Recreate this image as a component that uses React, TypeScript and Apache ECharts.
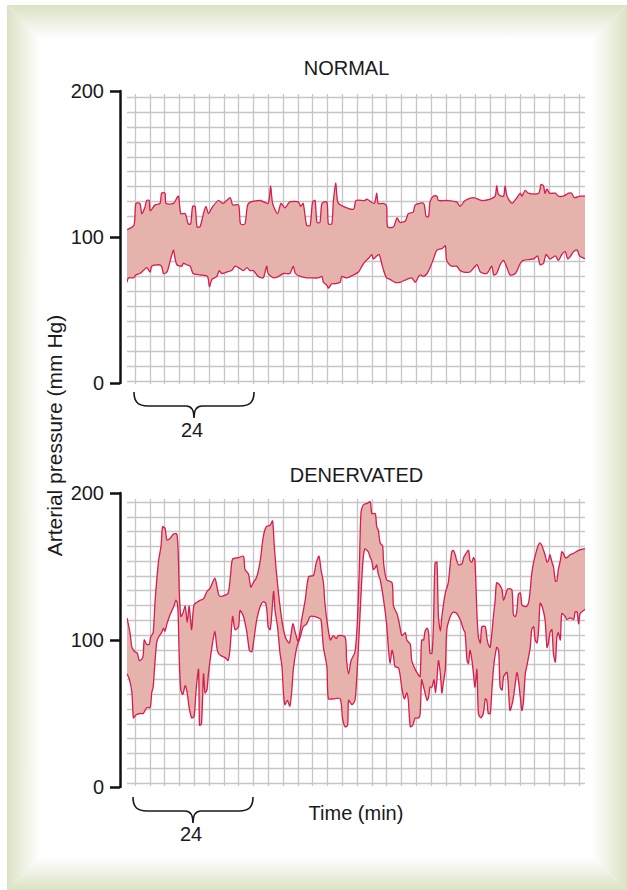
import React, { useEffect, useRef } from "react";
import * as echarts from "echarts";

const FONT = "'Liberation Sans', Arial, Helvetica, sans-serif";
const TEXT_COLOR = "#1a1a1a";
const FILL = "#e5b3ab";
const LINE = "#d51d4f";
const PAPER = "#c6c6c6";
const FRAME = "#dae2c3";
const SMOOTH = 0.25;

const TITLES = ["NORMAL", "DENERVATED"];
const BRACKET_LABEL = "24";
const X_NAME = "Time (min)";
const Y_NAME = "Arterial pressure (mm Hg)";

const TIME_MAX = 92.8; // minutes shown across each strip
const PRESSURE_MIN = 0;
const PRESSURE_MAX = 200;
const PRESSURE_STEP = 100;
const PAPER_COLS = 30; // graph-paper cells (3 min each)
const PAPER_ROWS = 19;

// [time (min), pressure (mm Hg)]
const NORMAL_UPPER: [number, number][] = [
  [0, 105], [1.4, 108], [1.8, 123], [2.6, 123], [3.0, 116], [3.6, 120], [4.0, 125], [4.5, 125], [4.7, 118],
  [5.7, 122], [6.7, 123], [7.0, 130], [7.7, 130], [7.9, 123], [9.4, 123], [10.4, 128], [10.9, 116], [11.8, 116],
  [12.4, 109], [12.9, 109], [13.3, 121], [13.8, 121], [14.2, 107], [14.8, 107], [15.5, 116], [16.0, 121],
  [16.5, 116], [17.2, 120], [18.5, 125], [19.5, 123], [20.9, 127], [21.4, 122], [22.6, 122], [23.0, 109],
  [23.9, 109], [24.6, 123], [27.0, 125], [28.6, 123], [29.1, 135], [29.5, 123], [30.5, 116], [31.2, 123],
  [32.0, 120], [33.0, 124], [34.7, 124], [35.2, 121], [35.7, 123], [36.4, 108], [37.1, 108], [37.6, 124],
  [38.1, 125], [38.5, 110], [39.1, 110], [39.5, 123], [40.5, 124], [40.8, 109], [41.5, 109], [41.8, 124],
  [42.3, 137], [42.7, 124], [43.8, 121], [45.9, 119], [46.4, 125], [48.2, 125], [48.6, 126], [50.1, 123],
  [50.6, 130], [50.9, 123], [52.0, 123], [52.6, 121], [52.8, 107], [54.0, 107], [54.7, 113], [55.3, 110],
  [56.4, 111], [57.0, 116], [58.0, 117], [58.4, 122], [60.1, 123], [60.6, 114], [61.1, 114], [61.4, 124],
  [62.1, 128], [62.8, 128], [63.1, 125], [64.8, 125], [66.8, 124], [67.5, 121], [68.5, 125], [70.2, 127],
  [71.9, 125], [73.6, 126], [74.6, 128], [74.9, 135], [75.3, 129], [76.3, 128], [76.6, 135], [77.0, 128],
  [78.0, 123], [79.0, 127], [79.7, 130], [80.0, 128], [80.7, 132], [81.3, 130], [83.4, 130], [83.9, 136],
  [84.4, 135], [84.7, 130], [85.1, 133], [85.6, 130], [86.8, 130], [87.4, 128], [88.4, 128], [89.5, 130],
  [90.1, 130], [90.6, 127], [91.8, 128], [92.8, 128],
];

const NORMAL_LOWER: [number, number][] = [
  [0, 69], [0.3, 72], [1.3, 72], [1.8, 74], [2.6, 75], [3.3, 77], [4.0, 79], [4.7, 76], [5.0, 80], [6.4, 81],
  [7.0, 80], [7.4, 75], [8.1, 76], [8.7, 83], [9.4, 91], [9.7, 86], [10.1, 81], [11.1, 80], [11.4, 82],
  [12.1, 81], [12.8, 80], [13.4, 75], [14.8, 74], [16.3, 73], [16.7, 66], [17.2, 71], [18.2, 73], [18.7, 77],
  [19.2, 75], [20.2, 76], [21.2, 77], [21.9, 80], [22.6, 79], [23.6, 77], [24.3, 79], [24.9, 77], [25.6, 77],
  [26.6, 73], [27.6, 72], [28.3, 80], [28.6, 75], [29.7, 72], [30.7, 73], [31.7, 75], [33.0, 75], [33.7, 80],
  [34.1, 75], [35.1, 73], [36.4, 72], [37.1, 72], [38.8, 72], [39.5, 73], [39.8, 69], [40.5, 67], [40.8, 65],
  [41.5, 68], [42.2, 68], [43.2, 69], [43.5, 73], [44.5, 72], [45.9, 74], [46.9, 76], [47.6, 80], [48.2, 83],
  [49.1, 86], [49.6, 88], [49.9, 85], [50.6, 87], [51.1, 88], [51.6, 82], [52.0, 77], [52.6, 72], [53.3, 71],
  [54.3, 69], [55.3, 69], [56.7, 71], [57.7, 72], [58.4, 69], [59.1, 73], [59.5, 74], [60.1, 73], [60.8, 75],
  [61.4, 79], [62.1, 85], [62.8, 91], [63.8, 92], [64.5, 94], [64.7, 85], [65.1, 82], [65.8, 80], [66.8, 80],
  [67.5, 77], [68.2, 76], [69.5, 76], [70.9, 81], [71.6, 76], [72.9, 75], [73.9, 80], [74.3, 74], [74.9, 75],
  [75.6, 81], [76.3, 84], [77.0, 79], [77.6, 74], [78.7, 75], [79.7, 82], [80.3, 84], [82.4, 85], [83.2, 87],
  [83.7, 81], [84.4, 82], [84.9, 88], [85.7, 85], [86.8, 87], [87.4, 84], [88.1, 88], [88.8, 90], [89.3, 85],
  [89.9, 87], [90.5, 90], [91.2, 91], [91.7, 87], [92.2, 86], [92.8, 85],
];

const DENERV_UPPER: [number, number][] = [
  [0, 115], [0.6, 105], [1.0, 95], [1.6, 92], [2.1, 91], [2.5, 86], [3.2, 88], [3.5, 100], [4.0, 97], [4.5, 97],
  [4.8, 102], [5.3, 105], [5.7, 127], [6.4, 154], [6.9, 164], [7.2, 177], [7.7, 176], [8.1, 168], [8.7, 169],
  [9.4, 172], [10.1, 172], [10.4, 157], [10.6, 132], [10.9, 116], [11.3, 118], [11.8, 123], [12.2, 112],
  [12.6, 123], [13.1, 107], [13.6, 124], [14.8, 127], [15.5, 128], [16.2, 133], [16.8, 135], [17.8, 142],
  [18.3, 135], [18.7, 130], [19.5, 130], [20.5, 132], [21.0, 145], [21.4, 155], [22.6, 156], [23.6, 157],
  [23.9, 148], [24.6, 145], [25.1, 136], [25.6, 139], [26.3, 143], [27.0, 154], [27.6, 170], [28.2, 177],
  [29.0, 178], [29.5, 181], [29.8, 166], [30.3, 145], [31.0, 123], [31.6, 109], [32.2, 101], [32.9, 98],
  [33.6, 111], [34.1, 105], [34.7, 99], [35.4, 114], [36.1, 127], [36.8, 143], [37.8, 144], [38.3, 152],
  [38.9, 157], [39.3, 148], [39.8, 139], [40.1, 125], [40.6, 111], [41.2, 100], [41.8, 103], [42.4, 101],
  [42.8, 103], [44.2, 102], [44.5, 86], [44.9, 77], [45.4, 86], [46.2, 92], [46.7, 114], [47.1, 152],
  [47.4, 186], [47.9, 192], [48.7, 193], [49.3, 194], [49.6, 186], [50.3, 186], [50.6, 177], [50.9, 175],
  [51.3, 166], [51.8, 164], [52.0, 152], [52.6, 141], [53.7, 139], [54.0, 123], [54.7, 118], [55.0, 114],
  [55.3, 109], [55.7, 103], [56.4, 105], [56.7, 100], [57.4, 97], [57.7, 86], [58.4, 80], [59.1, 76],
  [59.4, 75], [59.7, 100], [60.1, 100], [60.4, 106], [60.8, 108], [61.1, 105], [61.4, 91], [61.8, 91],
  [62.1, 111], [62.4, 152], [62.8, 153], [63.1, 116], [63.5, 106], [63.8, 116], [64.5, 132], [65.1, 139],
  [65.5, 152], [65.8, 160], [66.1, 161], [66.5, 158], [66.8, 154], [67.2, 151], [67.9, 152], [68.2, 156],
  [68.7, 159], [69.2, 161], [69.5, 154], [69.9, 153], [70.2, 156], [70.5, 154], [70.9, 118], [71.2, 102],
  [71.6, 98], [71.9, 109], [72.6, 109], [72.9, 102], [73.2, 97], [73.6, 95], [74.3, 118], [74.6, 127],
  [74.9, 139], [75.6, 137], [76.0, 134], [76.3, 127], [77.0, 134], [77.3, 135], [78.0, 134], [78.3, 117],
  [78.7, 116], [79.0, 120], [79.3, 131], [79.7, 132], [80.0, 124], [80.3, 123], [81.0, 123], [81.4, 126],
  [81.7, 134], [82.0, 145], [82.4, 153], [83.0, 161], [83.4, 165], [83.7, 166], [84.1, 164], [84.4, 161],
  [84.7, 158], [85.1, 153], [85.4, 154], [85.7, 158], [86.1, 153], [86.4, 150], [86.8, 140], [87.1, 140],
  [87.4, 148], [87.8, 154], [88.1, 160], [88.4, 159], [88.8, 156], [89.1, 156], [89.8, 158], [90.5, 159],
  [91.5, 161], [92.5, 162], [92.8, 162],
];

const DENERV_LOWER: [number, number][] = [
  [0, 77], [0.5, 73], [1.0, 64], [1.3, 47], [1.8, 49], [2.6, 50], [3.3, 50], [4.0, 54], [4.7, 54], [5.0, 64],
  [5.3, 68], [5.5, 77], [6.0, 98], [6.4, 102], [7.0, 105], [7.4, 108], [7.7, 106], [8.1, 111], [8.7, 117],
  [9.5, 123], [9.9, 127], [10.2, 125], [10.4, 114], [10.6, 86], [10.9, 66], [11.3, 63], [11.8, 69], [12.2, 64],
  [12.6, 54], [13.1, 47], [13.6, 48], [14.0, 66], [14.5, 80], [14.7, 42], [15.1, 43], [15.5, 77], [15.8, 64],
  [16.2, 66], [16.5, 77], [17.2, 95], [17.8, 106], [18.2, 95], [18.5, 91], [19.2, 89], [19.9, 88], [20.5, 86],
  [20.9, 95], [21.4, 116], [21.9, 107], [22.6, 109], [22.9, 120], [23.6, 116], [24.3, 105], [24.8, 93],
  [25.3, 92], [25.7, 100], [26.3, 114], [27.0, 123], [27.6, 126], [28.1, 125], [28.4, 118], [28.6, 109],
  [29.0, 107], [29.3, 116], [29.7, 133], [30.0, 120], [30.5, 109], [31.0, 91], [31.4, 82], [31.7, 64],
  [32.0, 56], [32.5, 59], [33.0, 55], [33.4, 66], [33.7, 80], [34.4, 95], [35.1, 102], [35.7, 109], [36.4, 111],
  [37.1, 116], [37.8, 116], [38.8, 115], [39.3, 114], [39.8, 95], [40.5, 82], [40.8, 60], [41.8, 60], [43.2, 60],
  [43.7, 46], [44.2, 41], [44.7, 42], [44.9, 59], [45.6, 56], [46.2, 59], [46.6, 77], [47.1, 109], [47.6, 143],
  [47.9, 157], [48.2, 162], [48.6, 161], [48.9, 160], [49.3, 156], [49.6, 154], [49.9, 148], [50.3, 149],
  [50.6, 151], [50.9, 145], [51.3, 141], [52.0, 127], [52.6, 111], [53.0, 93], [53.3, 84], [53.7, 93],
  [54.0, 89], [54.3, 82], [55.0, 81], [55.3, 77], [55.7, 67], [56.2, 60], [56.7, 64], [57.0, 59], [57.4, 41],
  [57.9, 42], [58.4, 47], [59.1, 47], [59.4, 50], [59.7, 73], [60.1, 68], [60.8, 59], [61.1, 61], [61.4, 68],
  [61.8, 68], [62.2, 73], [62.5, 64], [62.8, 73], [63.1, 86], [63.5, 77], [63.8, 64], [64.1, 71], [64.5, 80],
  [64.8, 107], [65.5, 116], [66.1, 119], [66.8, 118], [67.5, 114], [68.2, 107], [68.5, 105], [68.9, 86],
  [69.2, 84], [69.5, 93], [69.9, 86], [70.2, 77], [70.5, 68], [70.9, 80], [71.2, 50], [71.7, 47], [72.2, 50],
  [72.6, 60], [72.9, 59], [73.2, 50], [73.6, 50], [73.9, 64], [74.3, 82], [74.9, 95], [75.3, 93], [75.6, 68],
  [76.0, 66], [76.3, 75], [77.0, 78], [77.3, 66], [77.6, 52], [78.2, 59], [78.7, 71], [79.0, 78], [79.3, 73],
  [79.7, 61], [80.0, 52], [80.3, 57], [80.7, 77], [81.0, 82], [81.7, 95], [82.0, 107], [82.4, 109], [82.7, 100],
  [83.1, 98], [83.4, 107], [83.7, 125], [84.1, 123], [84.7, 114], [85.1, 95], [85.4, 98], [85.7, 105],
  [86.1, 107], [86.4, 91], [86.8, 85], [87.1, 102], [87.4, 105], [87.8, 100], [88.1, 118], [88.8, 116],
  [89.1, 114], [89.8, 115], [90.5, 114], [90.8, 119], [91.2, 119], [91.5, 111], [91.8, 118], [92.5, 120],
  [92.8, 121],
];

const BRACE_PATH =
  "M0,0 C0,10 4,14 14,14 L52,14 C57,14 60,18 60,26 C60,18 63,14 68,14 L106,14 C116,14 120,10 120,0";

let braceRegistered = false;
function registerBrace() {
  if (braceRegistered) return;
  echarts.graphic.registerShape("brace", echarts.graphic.extendPath(BRACE_PATH, {}));
  braceRegistered = true;
}

const PANELS = [
  {
    title: TITLES[0], upper: NORMAL_UPPER, lower: NORMAL_LOWER,
    plot: { top: 91, bottom: 507 }, rows: { top: 97, bottom: 509 }, cols: { top: 94, bottom: 506 },
    titleAt: [346.5, 68], braceAt: [134, 392], labelY: 429.5,
  },
  {
    title: TITLES[1], upper: DENERV_UPPER, lower: DENERV_LOWER,
    plot: { top: 493, bottom: 103 }, rows: { top: 502, bottom: 107 }, cols: { top: 499, bottom: 104 },
    titleAt: [356.5, 474.5], braceAt: [133, 797], labelY: 834,
  },
];

function gradient(x0: number, y0: number, x1: number, y1: number) {
  return new echarts.graphic.LinearGradient(x0, y0, x1, y1, [
    { offset: 0, color: FRAME },
    { offset: 0.55, color: "#eff2e5" },
    { offset: 1, color: "#ffffff" },
  ]);
}

function textEl(text: string, x: number, y: number, size: number, extra: any = {}) {
  return {
    type: "text",
    x,
    y,
    silent: true,
    ...extra,
    style: {
      text,
      font: `${size}px ${FONT}`,
      fill: TEXT_COLOR,
      align: "center",
      verticalAlign: "middle",
      textAlign: "center",
      textVerticalAlign: "middle",
    },
  };
}

export default function App() {
  const ref = useRef<HTMLDivElement>(null);

  useEffect(() => {
    if (!ref.current) return;
    registerBrace();
    const chart = echarts.init(ref.current, null, { renderer: "svg" });

    const grid: any[] = [];
    const xAxis: any[] = [];
    const yAxis: any[] = [];
    const series: any[] = [];
    const graphic: any[] = [];

    // frame
    const L = 7, T = 5, R = 627, B = 890, IL = 40, IT = 39, IR = 592, IB = 857;
    graphic.push(
      { type: "polygon", z: -10, silent: true, shape: { points: [[L, T], [R, T], [IR, IT], [IL, IT]] }, style: { fill: gradient(0, 0, 0, 1) } },
      { type: "polygon", z: -10, silent: true, shape: { points: [[L, T], [IL, IT], [IL, IB], [L, B]] }, style: { fill: gradient(0, 0, 1, 0) } },
      { type: "polygon", z: -10, silent: true, shape: { points: [[R, T], [R, B], [IR, IB], [IR, IT]] }, style: { fill: gradient(1, 0, 0, 0) } },
      { type: "polygon", z: -10, silent: true, shape: { points: [[L, B], [R, B], [IR, IB], [IL, IB]] }, style: { fill: gradient(0, 1, 0, 0) } }
    );

    PANELS.forEach((p, i) => {
      const base = i * 3;
      grid.push({ left: 127, right: 42, top: p.plot.top, bottom: p.plot.bottom, containLabel: false });
      grid.push({ left: 127, right: 42, top: p.rows.top, bottom: p.rows.bottom, containLabel: false });
      grid.push({ left: 135, right: 48, top: p.cols.top, bottom: p.cols.bottom, containLabel: false });

      xAxis.push(
        { type: "value", gridIndex: base, min: 0, max: TIME_MAX, show: false },
        { type: "value", gridIndex: base + 1, min: 0, max: 1, show: false },
        {
          type: "value", gridIndex: base + 2, min: 0, max: PAPER_COLS, interval: 1,
          axisLine: { show: false }, axisTick: { show: false }, axisLabel: { show: false },
          splitLine: { show: true, lineStyle: { color: PAPER, width: 1.3 } },
        }
      );
      yAxis.push(
        {
          type: "value", gridIndex: base, min: PRESSURE_MIN, max: PRESSURE_MAX, interval: PRESSURE_STEP,
          position: "left", offset: 7,
          axisLine: { show: true, onZero: false, lineStyle: { color: "#111", width: 2.5 } },
          axisTick: { show: true, length: 10, lineStyle: { color: "#111", width: 2.5 } },
          axisLabel: { show: true, margin: 16, color: TEXT_COLOR, fontSize: 20, fontFamily: FONT },
          splitLine: { show: false },
        },
        {
          type: "value", gridIndex: base + 1, min: 0, max: PAPER_ROWS, interval: 1,
          axisLine: { show: false }, axisTick: { show: false }, axisLabel: { show: false },
          splitLine: { show: true, lineStyle: { color: PAPER, width: 1.3 } },
        },
        { type: "value", gridIndex: base + 2, min: 0, max: 1, show: false }
      );

      const upper = p.upper;
      const lower = p.lower;
      series.push({
        type: "custom",
        name: p.title,
        xAxisIndex: base,
        yAxisIndex: base,
        silent: true,
        clip: true,
        z: 2,
        data: [[0, 0]],
        renderItem: (_params: any, api: any) => {
          const up = upper.map((d) => api.coord(d));
          const lo = lower.map((d) => api.coord(d));
          const band = up.concat(lo.slice().reverse());
          return {
            type: "group",
            children: [
              { type: "polygon", shape: { points: band, smooth: SMOOTH }, style: { fill: FILL } },
              { type: "polyline", shape: { points: up, smooth: SMOOTH }, style: { fill: "none", stroke: LINE, lineWidth: 1.3 } },
              { type: "polyline", shape: { points: lo, smooth: SMOOTH }, style: { fill: "none", stroke: LINE, lineWidth: 1.3 } },
            ],
          };
        },
      });

      graphic.push(textEl(p.title, p.titleAt[0], p.titleAt[1], 20));
      graphic.push({
        type: "brace",
        x: p.braceAt[0],
        y: p.braceAt[1],
        silent: true,
        style: { fill: "none", stroke: "#1a1a1a", lineWidth: 1.6 },
      });
      graphic.push(textEl(BRACKET_LABEL, p.braceAt[0] + 58, p.labelY, 20));
    });

    graphic.push(textEl(X_NAME, 356, 813, 20));
    graphic.push(textEl(Y_NAME, 54, 435.5, 21, { rotation: Math.PI / 2 }));

    chart.setOption({
      animation: false,
      backgroundColor: "#ffffff",
      grid,
      xAxis,
      yAxis,
      series,
      graphic: { elements: graphic },
    });

    return () => chart.dispose();
  }, []);

  return (
    <div
      ref={ref}
      style={{ position: "absolute", left: 0, top: 0, width: 627, height: 890 }}
    />
  );
}
